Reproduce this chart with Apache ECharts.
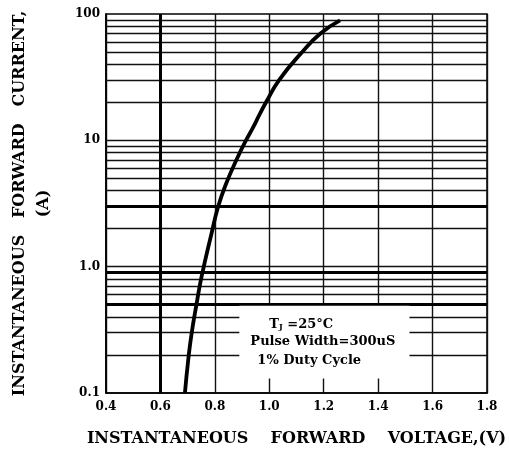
<!DOCTYPE html>
<html>
<head>
<meta charset="utf-8">
<style>
  html, body { margin: 0; padding: 0; background: #fff; }
  #chart { width: 509px; height: 455px; }
</style>
<script src="https://cdn.jsdelivr.net/npm/echarts@6/dist/echarts.min.js"></script>
</head>
<body>
<div id="chart"></div>
<script>
// forward curve (V, A)
var voltage = [0.69, 0.703, 0.715, 0.733, 0.751, 0.788, 0.812, 0.842, 0.879, 0.909, 0.94, 0.963, 0.988, 1.036, 1.121, 1.188, 1.26];
var current = [0.1, 0.19, 0.3, 0.51, 0.83, 1.84, 2.98, 4.57, 6.98, 9.5, 12.6, 15.8, 20, 30, 50, 70, 89];

// horizontal grid lines of the log paper
var gridCurrents = [0.2, 0.3, 0.4, 0.6, 0.7, 0.8, 1, 2, 4, 5, 6, 7, 8, 9, 10, 20, 30, 40, 50, 60, 70, 80, 90];
var boldCurrents = [0.5, 0.9, 3];
var boldVoltages = [0.6];

var yTickLabels = ["0.1", "1.0", "10", "100"];
var noteLines = ["Pulse Width=300uS", "1% Duty Cycle"];

var serif = "DejaVu Serif";
var chart = echarts.init(document.getElementById("chart"));

var thin = { color: "#111", width: 1.4, type: "solid" };
var thick = { color: "#000", width: 3, type: "solid" };

var gridData = gridCurrents.map(function (v) {
  return { yAxis: v, lineStyle: thin };
}).concat(boldCurrents.map(function (v) {
  return { yAxis: v, lineStyle: thick };
})).concat(boldVoltages.map(function (v) {
  return { xAxis: v, lineStyle: thick };
}));

var curve = voltage.map(function (v, i) { return [v, current[i]]; });

var option = {
  animation: false,
  grid: {
    left: 102, right: 22, top: 14, bottom: 62,
    show: true, borderColor: "#000", borderWidth: 1.5
  },
  xAxis: {
    type: "value",
    min: 0.4, max: 1.8, interval: 0.2,
    axisLine: { lineStyle: { color: "#000", width: 1.5 } },
    axisTick: { show: false },
    splitLine: { show: true, lineStyle: thin },
    axisLabel: {
      color: "#000", fontFamily: serif, fontWeight: "bold", fontSize: 12, margin: 8,
      formatter: function (v) { return v.toFixed(1); }
    },
    name: "INSTANTANEOUS    FORWARD    VOLTAGE,(V)",
    nameLocation: "middle",
    nameGap: 38,
    nameTextStyle: { color: "#000", fontFamily: serif, fontWeight: "bold", fontSize: 16 }
  },
  yAxis: {
    type: "log", logBase: 10,
    min: 0.1, max: 100,
    axisLine: { lineStyle: { color: "#000", width: 1.5 } },
    axisTick: { show: false },
    splitLine: { show: false },
    axisLabel: {
      color: "#000", fontFamily: serif, fontWeight: "bold", fontSize: 12, margin: 6,
      formatter: function (v) { return yTickLabels[Math.round(Math.log10(v)) + 1]; }
    },
    name: "INSTANTANEOUS   FORWARD   CURRENT,\n(A)",
    nameLocation: "middle",
    nameRotate: 90,
    nameGap: 50,
    nameTextStyle: { color: "#000", fontFamily: serif, fontWeight: "bold", fontSize: 16, lineHeight: 24 }
  },
  series: [
    {
      type: "line", data: [], z: 1, silent: true,
      markLine: { silent: true, symbol: "none", z: 2, label: { show: false }, data: gridData }
    },
    {
      type: "line", data: [], z: 3, silent: true,
      markArea: {
        silent: true, z: 3,
        itemStyle: { color: "#fff" },
        data: [[{ coord: [0.89, 0.49] }, { coord: [1.515, 0.13] }]]
      }
    },
    {
      type: "line", data: curve, z: 5, smooth: true,
      showSymbol: false,
      lineStyle: { color: "#000", width: 3.8 }
    }
  ]
};
chart.setOption(option);

// note inside the white box
var p = chart.convertToPixel({ gridIndex: 0 }, [0.89, 0.49]);
var noteFont = { fontFamily: serif, fontWeight: "bold", fontSize: 13, fill: "#000" };
chart.setOption({
  graphic: [
    {
      type: "text", left: p[0] + 30, top: p[1] + 12, z: 10,
      style: {
        text: "{t|T}{s|J}{t| =25°C}",
        rich: {
          t: noteFont,
          s: { fontFamily: serif, fontWeight: "bold", fontSize: 8, fill: "#000", verticalAlign: "bottom", padding: [6, 0, 0, 0] }
        }
      }
    },
    {
      type: "text", left: p[0] + 11, top: p[1] + 29, z: 10,
      style: echarts.util.extend({ text: noteLines[0] }, noteFont)
    },
    {
      type: "text", left: p[0] + 18, top: p[1] + 48, z: 10,
      style: echarts.util.extend({ text: noteLines[1] }, noteFont)
    }
  ]
});
</script>
</body>
</html>
